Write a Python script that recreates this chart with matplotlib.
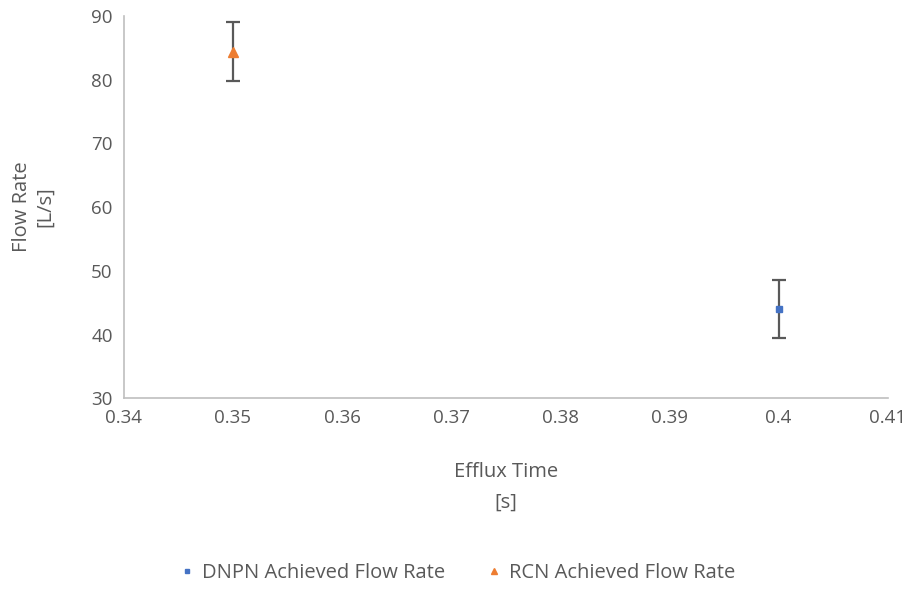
import matplotlib
matplotlib.use("Agg")
import matplotlib.pyplot as plt

# values
dnpn_time = [0.40]
dnpn_rate = [44.0]
dnpn_err = [4.5]

rcn_time = [0.35]
rcn_rate = [84.4]
rcn_err = [4.6]

x_ticks = [0.34, 0.35, 0.36, 0.37, 0.38, 0.39, 0.40, 0.41]
x_tick_labels = ["0.34", "0.35", "0.36", "0.37", "0.38", "0.39", "0.4", "0.41"]
y_ticks = [30, 40, 50, 60, 70, 80, 90]

text_color = "#595959"
plt.rcParams['font.family'] = ['Open Sans', 'DejaVu Sans']

fig = plt.figure(figsize=(9.17, 5.9), dpi=100)
ax = fig.add_axes([0.135, 0.325, 0.833, 0.648])

ax.errorbar(dnpn_time, dnpn_rate, yerr=dnpn_err, fmt="s", color="#4472C4",
            markersize=5, ecolor="#595959", elinewidth=1.6, capsize=5, capthick=1.6,
            label="DNPN Achieved Flow Rate", zorder=3)
ax.errorbar(rcn_time, rcn_rate, yerr=rcn_err, fmt="^", color="#ED7D31",
            markersize=7, ecolor="#595959", elinewidth=1.6, capsize=5, capthick=1.6,
            label="RCN Achieved Flow Rate", zorder=3)

ax.set_xlim(0.34, 0.41)
ax.set_ylim(30, 90)
ax.set_xticks(x_ticks)
ax.set_xticklabels(x_tick_labels)
ax.set_yticks(y_ticks)
ax.tick_params(length=0, labelsize=13.5, colors=text_color, pad=8)

for side in ["top", "right"]:
    ax.spines[side].set_visible(False)
for side in ["left", "bottom"]:
    ax.spines[side].set_color("#BFBFBF")
    ax.spines[side].set_linewidth(1.2)

ax.set_xlabel("Efflux Time\n[s]", fontsize=14.5, color=text_color, labelpad=25,
              linespacing=1.7)
ax.set_ylabel("Flow Rate\n[L/s]", fontsize=14.5, color=text_color, labelpad=26,
              linespacing=1.2)

handles, labels = ax.get_legend_handles_labels()
handles = [h[0] for h in handles]
leg = fig.legend(handles, labels, loc="center", bbox_to_anchor=(0.5, 0.028),
                 ncol=2, frameon=False, fontsize=14.5, handlelength=0.5,
                 handletextpad=0.5, columnspacing=2.2, markerscale=0.7)
for t in leg.get_texts():
    t.set_color(text_color)

fig.savefig("out.png", dpi=100)
